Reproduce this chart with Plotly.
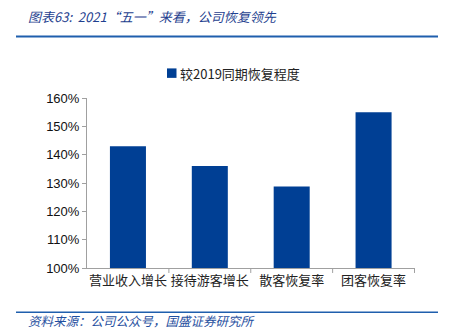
import plotly.graph_objects as go

categories = ["营业收入增长", "接待游客增长", "散客恢复率", "团客恢复率"]
values = [143, 136, 128.8, 155]
series_name = "较2019同期恢复程度"
y_ticks = [100, 110, 120, 130, 140, 150, 160]
y_tick_labels = [f"{v}%" for v in y_ticks]

W, H = 450, 332
L, R, T, B = 87, 415, 97.7, 268.3

def px_x(px):
    return (px - L) / (R - L)

def px_y(py):
    return (B - py) / (B - T)

blue = "#003F94"
line_blue = "#1F5FAD"
cjk = "Noto Sans CJK SC"

fig = go.Figure()
fig.add_trace(go.Bar(
    x=categories, y=values, name=series_name,
    marker=dict(color=blue, line=dict(width=0)),
    width=0.44, showlegend=False,
))

fig.update_layout(
    width=W, height=H,
    margin=dict(l=L, r=W - R, t=T, b=H - B, pad=0),
    paper_bgcolor="white", plot_bgcolor="white",
    font=dict(family=cjk, size=13, color="#222222"),
    showlegend=False,
    xaxis=dict(showline=True, linecolor="#A0A0A0", linewidth=1, ticks="", showgrid=False,
               tickfont=dict(size=13, family=cjk, color="#222222")),
    yaxis=dict(range=[100, 160], tickvals=y_ticks, ticktext=y_tick_labels,
               showline=True, linecolor="#A0A0A0", linewidth=1, ticks="outside", ticklen=4,
               tickcolor="#A0A0A0", showgrid=False, zeroline=False,
               tickfont=dict(size=13, family="Liberation Sans", color="#111111")),
    bargap=0.56,
)

# legend (drawn manually to match the tight marker/text spacing)
fig.add_shape(type="rect", xref="paper", yref="paper", x0=px_x(167), x1=px_x(176.5),
              y0=px_y(77.5), y1=px_y(68), fillcolor=blue, line=dict(width=0))
fig.add_annotation(text=series_name, xref="paper", yref="paper",
                   x=px_x(178), y=px_y(72.7), xanchor="left", yanchor="middle", showarrow=False,
                   font=dict(size=13, family=cjk, color="#222222"))

# category boundary tick marks on the x axis
for i in range(1, len(categories) + 1):
    fig.add_shape(type="line", xref="x", yref="paper", x0=i - 0.5, x1=i - 0.5,
                  y0=0, y1=px_y(B + 5), line=dict(color="#A0A0A0", width=1))

# title and rules
fig.add_annotation(text="<i>图表63:  2021“五一”来看，公司恢复领先</i>", xref="paper", yref="paper",
                   x=px_x(26), y=px_y(16), xanchor="left", yanchor="middle", showarrow=False,
                   font=dict(size=13, family=cjk, color="#1F3F8F"))
fig.add_shape(type="line", xref="paper", yref="paper", x0=px_x(16), x1=px_x(438),
              y0=px_y(36), y1=px_y(36), line=dict(color=line_blue, width=2))
fig.add_shape(type="line", xref="paper", yref="paper", x0=px_x(16), x1=px_x(438),
              y0=px_y(312.7), y1=px_y(312.7), line=dict(color=line_blue, width=1.5))
fig.add_annotation(text="<i>资料来源：公司公众号，国盛证券研究所</i>", xref="paper", yref="paper",
                   x=px_x(26), y=px_y(321), xanchor="left", yanchor="middle", showarrow=False,
                   font=dict(size=12.5, family=cjk, color="#1F4FA0"))

fig.write_html("out.html")
